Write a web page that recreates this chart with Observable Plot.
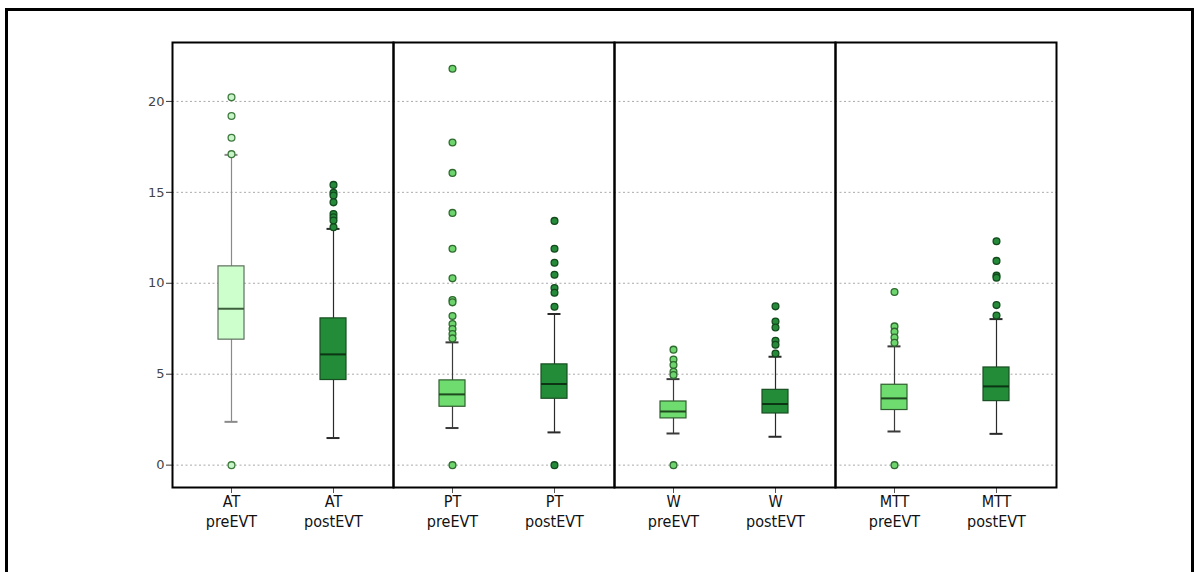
<!DOCTYPE html>
<html>
<head>
<meta charset="utf-8">
<script src="https://cdn.jsdelivr.net/npm/d3@7"></script>
<script src="https://cdn.jsdelivr.net/npm/@observablehq/plot@0.6"></script>
<style>
  html, body { margin: 0; padding: 0; background: #fff; overflow: hidden; }
  #page { position: relative; width: 1194px; height: 572px; overflow: hidden; }
  #border { position: absolute; left: 5px; top: 8px; width: 1183px; height: 600px; border: 3px solid #000; box-sizing: content-box; }
  #chart { position: absolute; left: 0; top: 0; }
</style>
</head>
<body>
<div id="page">
  <div id="border"></div>
  <div id="chart"></div>
</div>
<script>
// Perfusion parameters, before and after EVT
const measures = ["AT", "PT", "W", "MTT"];
const phases = ["pre", "post"];
const yTicks = [0, 5, 10, 15, 20];

// Summary statistics per box, in order: AT pre, AT post, PT pre, PT post, W pre, W post, MTT pre, MTT post
const whiskerLow  = [2.38, 1.49, 2.04, 1.80, 1.74, 1.56, 1.85, 1.72];
const q1          = [6.90, 4.68, 3.21, 3.65, 2.57, 2.84, 3.03, 3.52];
const median      = [8.60, 6.09, 3.89, 4.46, 2.95, 3.36, 3.67, 4.33];
const q3          = [10.93, 8.07, 4.66, 5.54, 3.50, 4.14, 4.42, 5.37];
const whiskerHigh = [17.06, 12.99, 6.75, 8.31, 4.73, 5.96, 6.53, 8.03];
const outliers = [
  [20.23, 19.2, 18.0, 17.1, 0],
  [15.41, 14.97, 14.82, 14.45, 13.81, 13.63, 13.45, 13.08],
  [21.8, 17.74, 16.07, 13.87, 11.9, 10.27, 9.08, 8.95, 8.2, 7.76, 7.48, 7.21, 6.97, 0],
  [13.43, 11.9, 11.13, 10.47, 9.74, 9.48, 8.71, 0],
  [6.35, 5.81, 5.5, 5.13, 4.95, 0],
  [8.73, 7.9, 7.57, 6.84, 6.62, 6.14],
  [9.52, 7.63, 7.34, 7.02, 6.73, 0],
  [12.31, 11.23, 10.42, 10.31, 8.8, 8.23]
];

// Colour scheme: the AT baseline box is pale, other pre boxes mid green, post boxes dark green
const palette = {
  pale: {fill: "#ccffcc", stroke: "#5f6f5f", median: "#3d5f3d", whisker: "#8a8a8a", dotFill: "#c8f5c8", dotStroke: "#3e7a3e"},
  pre:  {fill: "#6edc6e", stroke: "#2f5f2f", median: "#1f4a1f", whisker: "#3a3a3a", dotFill: "#6ed46e", dotStroke: "#2f6a2f"},
  post: {fill: "#228c38", stroke: "#184f22", median: "#0c3414", whisker: "#2a2a2a", dotFill: "#258a3a", dotStroke: "#124a1c"}
};

const boxes = [];
measures.forEach((m, i) => phases.forEach((p, j) => {
  const k = i * 2 + j;
  const tone = p === "post" ? "post" : (m === "AT" ? "pale" : "pre");
  boxes.push({
    measure: m, phase: p, tone,
    label: `${m}\n${p}EVT`,
    lo: whiskerLow[k], q1: q1[k], med: median[k], q3: q3[k], hi: whiskerHigh[k]
  });
}));
const dots = boxes.flatMap((b, k) => outliers[k].map(v => ({measure: b.measure, phase: b.phase, tone: b.tone, value: v})));

const st = key => d => palette[d.tone][key];

const chart = Plot.plot({
  width: 1194,
  height: 572,
  marginLeft: 172,
  marginRight: 138,
  marginTop: 42,
  marginBottom: 85,
  style: {background: "transparent"},
  fx: {domain: measures, padding: 0, axis: null},
  x: {domain: phases, paddingInner: 0.744, paddingOuter: 0.445, axis: null},
  y: {domain: [-1.23, 23.24], axis: null},
  color: {type: "identity"},
  marks: [
    Plot.gridY(yTicks, {stroke: "#a0a0a0", strokeOpacity: 0.9, strokeDasharray: "2,2.5", strokeWidth: 1}),
    Plot.axisY(yTicks, {tickSize: 6, tickPadding: 2, fontSize: 13, color: "#444", stroke: "#333", label: null, fontFamily: "DejaVu Sans, sans-serif"}),
    Plot.axisX({tickSize: 6, tickFormat: () => "", stroke: "#555", label: null}),
    Plot.text(boxes, {fx: "measure", x: "phase", text: "label", frameAnchor: "bottom", lineAnchor: "top", dy: 5, lineHeight: 1.25, fontSize: 16, fill: "#111", fontFamily: "DejaVu Sans Condensed, Liberation Sans Narrow, sans-serif", fontStretch: "condensed"}),
    // whiskers
    Plot.ruleX(boxes, {fx: "measure", x: "phase", y1: "lo", y2: "hi", stroke: st("whisker"), strokeWidth: 1.2}),
    Plot.tickY(boxes, {fx: "measure", x: "phase", y: "lo", stroke: st("whisker"), strokeWidth: 2, insetLeft: 6.5, insetRight: 6.5}),
    Plot.tickY(boxes, {fx: "measure", x: "phase", y: "hi", stroke: st("whisker"), strokeWidth: 2, insetLeft: 6.5, insetRight: 6.5}),
    // interquartile boxes and medians
    Plot.barY(boxes, {fx: "measure", x: "phase", y1: "q1", y2: "q3", fill: st("fill"), stroke: st("stroke"), strokeWidth: 1.2}),
    Plot.tickY(boxes, {fx: "measure", x: "phase", y: "med", stroke: st("median"), strokeWidth: 2}),
    // outliers
    Plot.dot(dots, {fx: "measure", x: "phase", y: "value", r: 3.4, fill: st("dotFill"), stroke: st("dotStroke"), strokeWidth: 1.3}),
    Plot.frame({stroke: "#000", strokeWidth: 2})
  ]
});
document.getElementById("chart").append(chart);
</script>
</body>
</html>
